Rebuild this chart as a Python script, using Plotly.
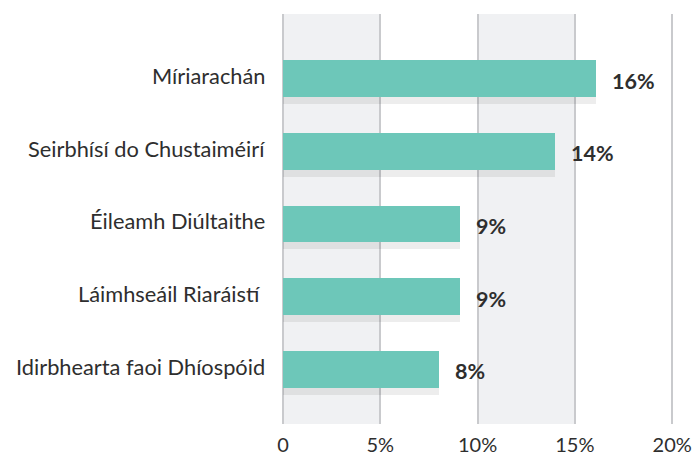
import plotly.graph_objects as go

categories = ["Míriarachán", "Seirbhísí do Chustaiméirí", "Éileamh Diúltaithe",
              "Láimhseáil Riaráistí ", "Idirbhearta faoi Dhíospóid"]
values = [16.1, 14.0, 9.1, 9.1, 8.0]
labels = ["16%", "14%", "9%", "9%", "8%"]
xtick_vals = [0, 5, 10, 15, 20]
xtick_text = ["0", "5%", "10%", "15%", "20%"]

pos = list(range(len(categories)))
BAR_W = 0.508
SHADOW_SHIFT = 0.096

fig = go.Figure()
# shadow
fig.add_trace(go.Bar(
    x=values, y=pos, orientation="h", width=BAR_W,
    offset=-BAR_W / 2 + SHADOW_SHIFT,
    marker=dict(color="rgba(0,0,0,0.07)", line=dict(width=0)),
    hoverinfo="skip", showlegend=False,
))
fig.add_trace(go.Bar(
    x=values, y=pos, orientation="h", width=BAR_W,
    offset=-BAR_W / 2,
    marker=dict(color="#6dc7b9", line=dict(width=0)),
    showlegend=False,
))

shapes = []
for a, b in [(0, 5), (10, 15)]:
    shapes.append(dict(type="rect", xref="x", yref="paper", x0=a, x1=b, y0=0, y1=1,
                       fillcolor="#f0f1f3", line=dict(width=0), layer="below"))

annotations = []
for p, c in zip(pos, categories):
    annotations.append(dict(x=0, y=p, xref="paper", yref="y", text=c, showarrow=False,
                            xanchor="right", xshift=-16, yshift=3,
                            font=dict(family="Lato", size=21.8, color="#2e2e2e")))
for p, v, t in zip(pos, values, labels):
    annotations.append(dict(x=v, y=p, xref="x", yref="y", text=t, showarrow=False,
                            xanchor="left", xshift=14, yshift=-2,
                            font=dict(family="Lato", size=21.5, color="#2e2e2e", weight="bold")))

fig.update_layout(
    width=696, height=452,
    margin=dict(l=283, r=18, t=14, b=28, autoexpand=False),
    paper_bgcolor="white", plot_bgcolor="white",
    bargap=0, barmode="overlay",
    shapes=shapes, annotations=annotations,
    font=dict(family="Lato", size=20, color="#2e2e2e"),
    xaxis=dict(range=[0, 20.3], tickvals=xtick_vals, ticktext=xtick_text,
               showgrid=True, gridcolor="#c9cacd", gridwidth=2,
               zeroline=True, zerolinecolor="#c9cacd", zerolinewidth=2,
               showline=False, ticks="", ticklabelstandoff=7, automargin=False,
               tickfont=dict(family="Lato", size=20, color="#2e2e2e")),
    yaxis=dict(range=[4.75, -0.887], showticklabels=False, showgrid=False,
               zeroline=False, showline=False, ticks="", automargin=False),
)

fig.write_html("out.html", config={"displayModeBar": False},
               post_script="document.body.style.margin='0';document.body.style.overflow='hidden';")
